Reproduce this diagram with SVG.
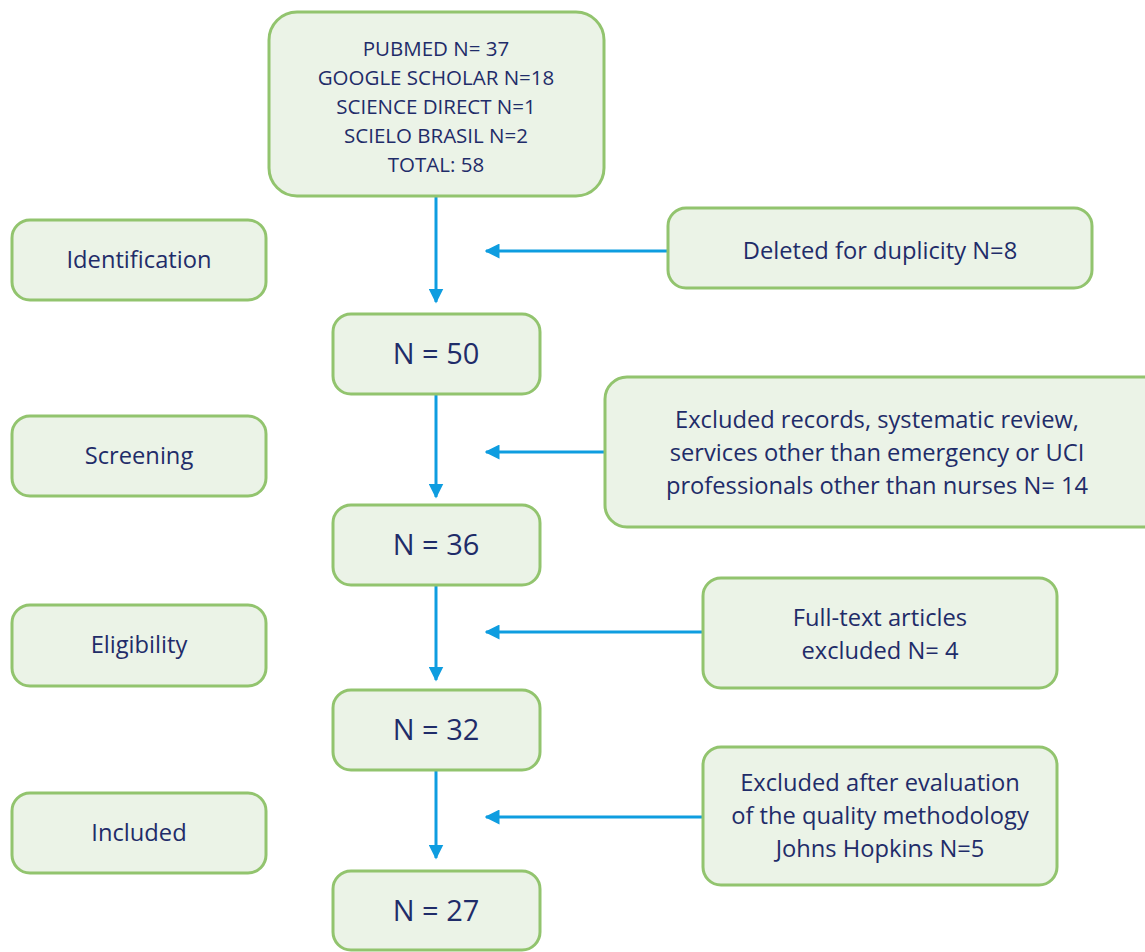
<svg xmlns="http://www.w3.org/2000/svg" width="1145" height="952" viewBox="0 0 1145 952">
<style>
.box{fill:#ebf3e7;stroke:#92c46e;stroke-width:3}
.t{font-family:"Open Sans","Noto Sans",sans-serif;fill:#1f2c69;text-anchor:middle}
.s{font-size:20.5px}
.m{font-size:23.7px}
.l{font-size:29px}
.c{stroke:#0e9de0;stroke-width:3;fill:none}
</style>
<defs>
<marker id="ah" viewBox="0 0 10 10" refX="9" refY="5" markerWidth="5" markerHeight="5" markerUnits="strokeWidth" orient="auto">
<path d="M0,0 L10,5 L0,10 z" fill="#0e9de0"/>
</marker>
</defs>
<rect width="1145" height="952" fill="#ffffff"/>
<g id="connectors">
<line class="c" x1="436" y1="196" x2="436" y2="302" marker-end="url(#ah)"/>
<line class="c" x1="436" y1="394" x2="436" y2="497" marker-end="url(#ah)"/>
<line class="c" x1="436" y1="585" x2="436" y2="680" marker-end="url(#ah)"/>
<line class="c" x1="436" y1="770" x2="436" y2="858" marker-end="url(#ah)"/>
<line class="c" x1="668" y1="251" x2="486" y2="251" marker-end="url(#ah)"/>
<line class="c" x1="605" y1="452" x2="486" y2="452" marker-end="url(#ah)"/>
<line class="c" x1="703" y1="632" x2="486" y2="632" marker-end="url(#ah)"/>
<line class="c" x1="703" y1="817" x2="486" y2="817" marker-end="url(#ah)"/>
</g>
<g id="sources">
<rect class="box" x="269" y="12" width="335" height="184" rx="28"/>
<text class="t s" x="436" y="56">PUBMED N= 37</text>
<text class="t s" x="436" y="85">GOOGLE SCHOLAR N=18</text>
<text class="t s" x="436" y="114">SCIENCE DIRECT N=1</text>
<text class="t s" x="436" y="143">SCIELO BRASIL N=2</text>
<text class="t s" x="436" y="172">TOTAL: 58</text>
</g>
<g id="identification">
<rect class="box" x="12" y="220" width="254" height="80" rx="18"/>
<text class="t m" x="139" y="268">Identification</text>
</g>
<g id="screening">
<rect class="box" x="12" y="416" width="254" height="80" rx="18"/>
<text class="t m" x="139" y="464">Screening</text>
</g>
<g id="eligibility">
<rect class="box" x="12" y="605" width="254" height="81" rx="18"/>
<text class="t m" x="139" y="653">Eligibility</text>
</g>
<g id="included">
<rect class="box" x="12" y="793" width="254" height="80" rx="18"/>
<text class="t m" x="139" y="841">Included</text>
</g>
<g id="n50">
<rect class="box" x="333" y="314" width="207" height="80" rx="18"/>
<text class="t l" x="436" y="364">N = 50</text>
</g>
<g id="n36">
<rect class="box" x="333" y="505" width="207" height="80" rx="18"/>
<text class="t l" x="436" y="555">N = 36</text>
</g>
<g id="n32">
<rect class="box" x="333" y="690" width="207" height="80" rx="18"/>
<text class="t l" x="436" y="740">N = 32</text>
</g>
<g id="n27">
<rect class="box" x="333" y="871" width="207" height="79" rx="18"/>
<text class="t l" x="436" y="921">N = 27</text>
</g>
<g id="duplicity">
<rect class="box" x="668" y="208" width="424" height="80" rx="18"/>
<text class="t m" x="880" y="259">Deleted for duplicity N=8</text>
</g>
<g id="excluded-records">
<rect class="box" x="605" y="377" width="560" height="150" rx="22"/>
<text class="t m" x="877" y="428">Excluded records, systematic review,</text>
<text class="t m" x="877" y="461">services other than emergency or UCI</text>
<text class="t m" x="877" y="494">professionals other than nurses N= 14</text>
</g>
<g id="fulltext">
<rect class="box" x="703" y="578" width="354" height="110" rx="18"/>
<text class="t m" x="880" y="626">Full-text articles</text>
<text class="t m" x="880" y="659">excluded N= 4</text>
</g>
<g id="quality">
<rect class="box" x="703" y="747" width="354" height="138" rx="18"/>
<text class="t m" x="880" y="791">Excluded after evaluation</text>
<text class="t m" x="880" y="824">of the quality methodology</text>
<text class="t m" x="880" y="857">Johns Hopkins N=5</text>
</g>
</svg>
